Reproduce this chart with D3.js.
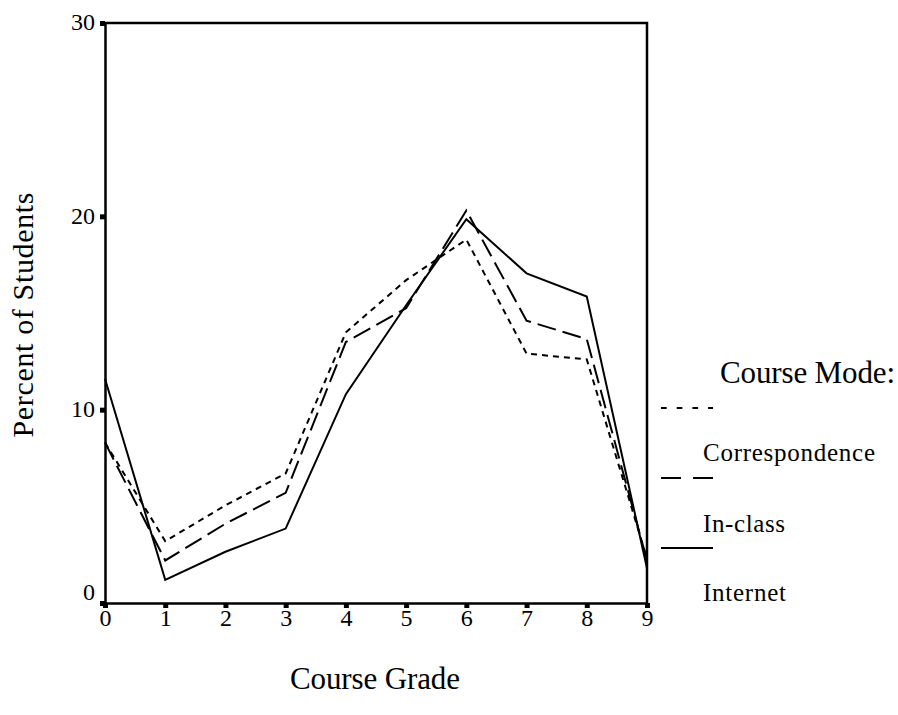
<!DOCTYPE html>
<html>
<head>
<meta charset="utf-8">
<script src="https://cdn.jsdelivr.net/npm/d3@7"></script>
<style>
  body { margin: 0; background: #fff; }
  svg { display: block; }
  text { font-family: "Liberation Serif", "Times New Roman", serif; fill: #000; }
</style>
</head>
<body>
<div id="chart"></div>
<script>
// Data
var grades = [0, 1, 2, 3, 4, 5, 6, 7, 8, 9];
var correspondence = [8.3, 3.2, 5.05, 6.7, 14.0, 16.7, 18.8, 12.9, 12.6, 2.3];
var inClass = [8.3, 2.2, 4.1, 5.7, 13.5, 15.25, 20.3, 14.6, 13.65, 2.2];
var internet = [11.6, 1.2, 2.65, 3.85, 10.8, 15.4, 19.85, 17.05, 15.85, 1.8];
var yTicks = [0, 10, 20, 30];
var modes = ['Correspondence', 'In-class', 'Internet'];

// Margins
var margin = { top: 23, right: 251, bottom: 112, left: 105 },
    width = 898 - margin.left - margin.right,
    height = 715 - margin.top - margin.bottom;

var series = [
    { name: modes[0], values: correspondence, dash: '6,5', legendDash: '5.7,10' },
    { name: modes[1], values: inClass, dash: '19,7', legendDash: '20,12' },
    { name: modes[2], values: internet, dash: null, legendDash: null }
];

var x = d3.scaleLinear().domain([0, 9]).range([0, width]);
var y = d3.scaleLinear().domain([0, 30]).range([height, 0]);

var svg = d3
    .select('#chart')
    .append('svg')
    .attr('width', 898)
    .attr('height', 715);

var g = svg.append('g').attr('transform', 'translate(' + margin.left + ',' + margin.top + ')');

// Frame (top and right)
g.append('path')
    .attr('d', 'M0,' + y(30) + 'H' + x(9) + 'V' + y(0))
    .attr('fill', 'none')
    .attr('stroke', '#000')
    .attr('stroke-width', 2.5);

// X Axis
var xAxis = g
    .append('g')
    .attr('transform', 'translate(0,' + height + ')')
    .call(d3.axisBottom(x).tickValues(grades).tickFormat(d3.format('d')).tickSize(5).tickSizeOuter(0))
    .attr('font-size', 24)
    .attr('font-family', null);
xAxis.select('.domain').attr('stroke-width', 2.5);
xAxis.selectAll('.tick line').attr('stroke-width', 5);
xAxis.selectAll('.tick text').attr('y', 23).attr('dy', 0);

// Y Axis
var yAxis = g
    .append('g')
    .call(d3.axisLeft(y).tickValues(yTicks).tickSize(5).tickPadding(5).tickSizeOuter(0))
    .attr('font-size', 24)
    .attr('font-family', null);
yAxis.select('.domain').attr('stroke-width', 2.5);
yAxis.selectAll('.tick line').attr('stroke-width', 5);
yAxis.selectAll('.tick text')
    .attr('dy', function (d) { return d === 0 ? '-0.15em' : '0.28em'; });

// Lines
var line = d3
    .line()
    .x(function (d, i) { return x(grades[i]); })
    .y(function (d) { return y(d); });

g.selectAll('.series')
    .data(series)
    .enter()
    .append('path')
    .attr('class', 'series')
    .attr('d', function (d) { return line(d.values); })
    .attr('fill', 'none')
    .attr('stroke', '#000')
    .attr('stroke-width', 2)
    .attr('stroke-dasharray', function (d) { return d.dash; });

// Axis labels
svg.append('text')
    .attr('x', 290)
    .attr('y', 689)
    .attr('textLength', 170)
    .style('font-size', '31px')
    .text('Course Grade');

svg.append('text')
    .attr('transform', 'translate(33,315) rotate(-90)')
    .attr('text-anchor', 'middle')
    .attr('textLength', 245)
    .style('font-size', '30px')
    .text('Percent of Students');

// Legend
svg.append('text')
    .attr('x', 720)
    .attr('y', 383)
    .attr('textLength', 175)
    .style('font-size', '31px')
    .text('Course Mode:');

var legendLineY = [408, 478, 548];
var legendTextY = [461, 532, 601];
var legendWidths = [172, 82, 83];

var legend = svg.selectAll('.legend')
    .data(series)
    .enter()
    .append('g')
    .attr('class', 'legend');

legend.append('line')
    .attr('x1', 661)
    .attr('x2', 713)
    .attr('y1', function (d, i) { return legendLineY[i]; })
    .attr('y2', function (d, i) { return legendLineY[i]; })
    .attr('stroke', '#000')
    .attr('stroke-width', 2)
    .attr('stroke-dasharray', function (d) { return d.legendDash; });

legend.append('text')
    .attr('x', 703)
    .attr('y', function (d, i) { return legendTextY[i]; })
    .attr('textLength', function (d, i) { return legendWidths[i]; })
    .style('font-size', '25px')
    .text(function (d) { return d.name; });
</script>
</body>
</html>
